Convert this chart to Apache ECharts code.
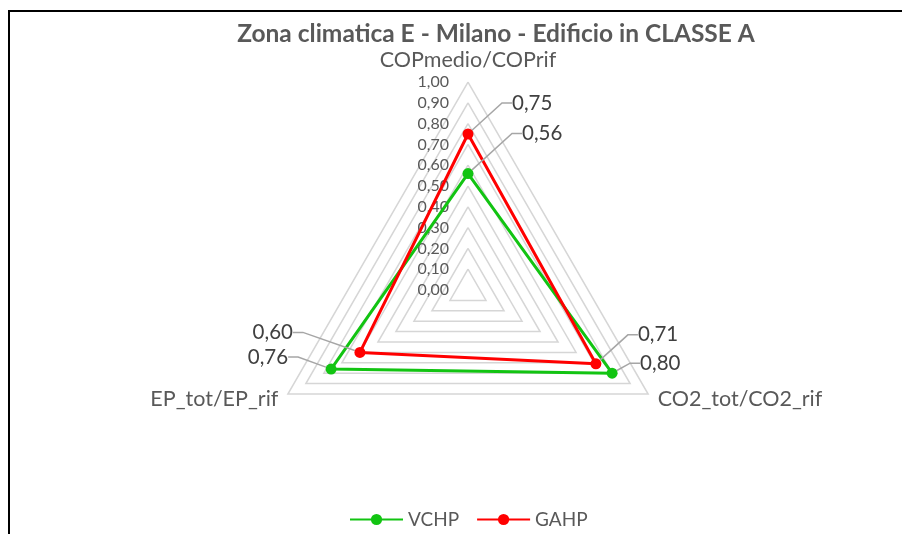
<!DOCTYPE html>
<html>
<head>
<meta charset="utf-8">
<script src="https://cdn.jsdelivr.net/npm/echarts@6/dist/echarts.min.js"></script>
<style>
html,body{margin:0;padding:0;background:#fff;}
#chart{width:902px;height:534px;}
</style>
</head>
<body>
<div id="chart"></div>
<script>
const titleText = 'Zona climatica E - Milano - Edificio in CLASSE A';
const indicators = ['COPmedio/COPrif', 'EP_tot/EP_rif', 'CO2_tot/CO2_rif'];
const seriesNames = ['VCHP', 'GAHP'];
const vchpValues = [0.56, 0.76, 0.80];
const gahpValues = [0.75, 0.60, 0.71];
const seriesColors = ['#12c412', '#ff0000'];
const tickMin = 0, tickMax = 1, tickStep = 0.1;

const CX = 468, CY = 290, R = 208;
const fontFam = 'Lato, "Open Sans", sans-serif';
const fmt = v => v.toFixed(2).replace('.', ',');

// label offsets per [seriesIndex][vertex: top, left, right]
const labelOffsets = [
  { top: [48, -40], left: [-37, -12], right: [22, -10] },
  { top: [38, -31], left: [-61, -20], right: [36, -29] }
];

const chart = echarts.init(document.getElementById('chart'), null, {renderer: 'canvas'});
const option = {
  backgroundColor: '#ffffff',
  animation: false,
  title: {
    text: titleText,
    left: 491, top: 17, textAlign: 'center',
    textStyle: {fontFamily: fontFam, fontWeight: 'bold', fontSize: 24.5, color: '#595959'}
  },
  graphic: [{
    type: 'rect', shape: {x: 9, y: 11, width: 1000, height: 1000},
    style: {fill: 'none', stroke: '#000', lineWidth: 2}, silent: true
  }],
  legend: {
    data: seriesNames,
    bottom: 0, left: 344,
    itemWidth: 53, itemHeight: 14, itemGap: 17,
    textStyle: {fontFamily: fontFam, fontSize: 19, color: '#595959'}
  },
  grid: {left: CX, top: CY - R, height: R, width: 1},
  xAxis: {type: 'value', show: false},
  yAxis: {
    type: 'value', min: tickMin, max: tickMax, interval: tickStep,
    axisLine: {show: false}, axisTick: {show: false}, splitLine: {show: false},
    axisLabel: {formatter: fmt, margin: 19, fontFamily: fontFam, fontSize: 16, color: '#595959'}
  },
  radar: {
    center: [CX, CY], radius: R, startAngle: 90,
    splitNumber: 10, shape: 'polygon',
    indicator: indicators.map(n => ({name: n, min: tickMin, max: tickMax})),
    axisName: {fontFamily: fontFam, fontSize: 21.5, color: '#595959'},
    nameGap: 11,
    axisLine: {show: false}, axisTick: {show: false}, axisLabel: {show: false},
    splitArea: {show: false},
    splitLine: {lineStyle: {color: '#d6d6d6', width: 1.5}}
  },
  series: [
    {
      type: 'radar',
      symbol: 'circle', symbolSize: 11,
      label: {
        show: true, formatter: p => fmt(p.value),
        fontFamily: fontFam, fontSize: 20.5, color: '#404040', padding: [0, 6]
      },
      labelLine: {show: true, length2: 10, lineStyle: {color: '#a6a6a6', width: 1.5}},
      labelLayout: function (params) {
        const r = params.rect;
        const sx = r.x + r.width / 2, sy = r.y + r.height / 2;
        const vert = sy < CY - 20 ? 'top' : (sx < CX ? 'left' : 'right');
        const off = labelOffsets[params.dataIndex][vert];
        return {
          x: sx + off[0], y: sy + off[1],
          align: vert === 'left' ? 'right' : 'left', verticalAlign: 'middle'
        };
      },
      data: [
        {name: seriesNames[0], value: vchpValues,
         lineStyle: {color: seriesColors[0], width: 3}, itemStyle: {color: seriesColors[0]}},
        {name: seriesNames[1], value: gahpValues,
         lineStyle: {color: seriesColors[1], width: 3}, itemStyle: {color: seriesColors[1]}}
      ],
      z: 3
    },
    {name: seriesNames[0], type: 'line', data: [], symbol: 'circle', symbolSize: 12,
     itemStyle: {color: seriesColors[0]}, lineStyle: {color: seriesColors[0], width: 3}},
    {name: seriesNames[1], type: 'line', data: [], symbol: 'circle', symbolSize: 12,
     itemStyle: {color: seriesColors[1]}, lineStyle: {color: seriesColors[1], width: 3}}
  ]
};
chart.setOption(option);
</script>
</body>
</html>
